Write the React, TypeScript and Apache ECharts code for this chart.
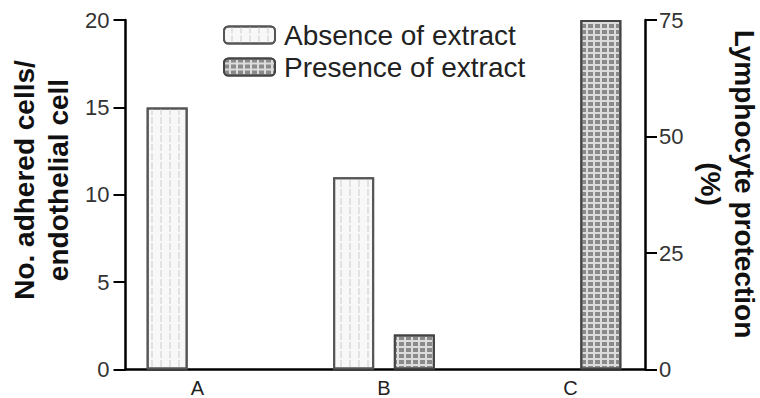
import React, { useEffect, useRef } from "react";
import * as echarts from "echarts";

const categories = ["A", "B", "C"];
const seriesNames = ["Absence of extract", "Presence of extract"];
// No. adhered cells / endothelial cell (left axis units)
const absenceValues = [15, 11, null];
const presenceValues = [null, 2, 20];
const leftAxisMax = 20;
const leftAxisInterval = 5;
const rightAxisMax = 75;
const rightAxisInterval = 25;
const leftAxisTitle = "No. adhered cells/\nendothelial cell";
const rightAxisTitle = "Lymphocyte protection\n(%)";

const FONT = "'Liberation Sans', Arial, Helvetica, sans-serif";

export default function App() {
  const ref = useRef<HTMLDivElement>(null);
  useEffect(() => {
    if (!ref.current) return;
    const chart = echarts.init(ref.current, null, { renderer: "svg" });
    const axisLine = { show: true, onZero: false, lineStyle: { color: "#000", width: 2.5 } };
    const axisTick = { show: true, length: 12, lineStyle: { color: "#000", width: 2 } };
    const titleStyle = {
      fontSize: 28,
      fontWeight: "bold",
      fontFamily: FONT,
      fill: "#111",
      lineHeight: 34,
      align: "center",
      verticalAlign: "middle",
    };
    const option: any = {
      animation: false,
      textStyle: { fontFamily: FONT },
      legend: {
        orient: "vertical",
        left: 223,
        top: 21,
        padding: 0,
        itemWidth: 51,
        itemHeight: 17,
        itemGap: 4,
        selectedMode: false,
        data: seriesNames,
        textStyle: { fontSize: 28, lineHeight: 26, color: "#222", fontFamily: FONT, padding: [0, 0, 0, 4] },
      },
      grid: [
        { left: 125.5, right: 115, top: 20, bottom: 28.5, outerBoundsMode: "none", containLabel: false },
        { left: 104.25, right: 96.25, top: 20, bottom: 28.5, outerBoundsMode: "none", containLabel: false },
      ],
      graphic: [
        {
          type: "text",
          x: 41,
          y: 180,
          rotation: Math.PI / 2,
          style: { ...titleStyle, text: leftAxisTitle },
        },
        {
          type: "text",
          x: 727,
          y: 184,
          rotation: -Math.PI / 2,
          style: { ...titleStyle, text: rightAxisTitle },
        },
      ],
      xAxis: [
        {
          gridIndex: 0,
          type: "value",
          min: 0,
          max: 1,
          axisLine,
          axisTick: { show: false },
          axisLabel: { show: false },
          splitLine: { show: false },
        },
        {
          gridIndex: 1,
          type: "category",
          data: categories,
          axisLine: { show: false },
          axisTick: { show: false },
          axisLabel: { fontSize: 20, lineHeight: 20, color: "#222", margin: 8, fontFamily: FONT },
          splitLine: { show: false },
        },
      ],
      yAxis: [
        {
          gridIndex: 0,
          type: "value",
          position: "left",
          min: 0,
          max: leftAxisMax,
          interval: leftAxisInterval,
          axisLine,
          axisTick,
          axisLabel: { fontSize: 22, color: "#333", margin: 16, fontFamily: FONT },
          splitLine: { show: false },
        },
        {
          gridIndex: 0,
          type: "value",
          position: "right",
          min: 0,
          max: rightAxisMax,
          interval: rightAxisInterval,
          axisLine,
          axisTick,
          axisLabel: { fontSize: 22, color: "#333", margin: 14, fontFamily: FONT },
          splitLine: { show: false },
        },
        {
          gridIndex: 1,
          type: "value",
          min: 0,
          max: leftAxisMax,
          show: false,
          splitLine: { show: false },
        },
      ],
      series: [
        {
          name: seriesNames[0],
          type: "bar",
          xAxisIndex: 1,
          yAxisIndex: 2,
          data: absenceValues,
          barWidth: 41,
          barGap: "48%",
          itemStyle: {
            color: "#f8f8f8",
            borderColor: "#555",
            borderWidth: 2,
            decal: {
              symbol: "rect",
              symbolSize: 1,
              color: "#e2e2e2",
              dashArrayX: [[0, 7, 2, 0]],
              dashArrayY: [7, 2],
              rotation: 0,
            },
          },
        },
        {
          name: seriesNames[1],
          type: "bar",
          xAxisIndex: 1,
          yAxisIndex: 2,
          data: presenceValues,
          barWidth: 41,
          barGap: "48%",
          itemStyle: {
            color: "#dcdcdc",
            borderColor: "#444",
            borderWidth: 2,
            decal: {
              symbol: "rect",
              symbolSize: 1,
              color: "#8a8a8a",
              dashArrayX: [5, 2],
              dashArrayY: [4, 2],
              rotation: 0,
            },
          },
        },
      ],
    };
    chart.setOption(option);
    return () => chart.dispose();
  }, []);
  return (
    <div
      ref={ref}
      style={{ position: "fixed", left: 0, top: 0, width: 760, height: 398, background: "#fff" }}
    />
  );
}
